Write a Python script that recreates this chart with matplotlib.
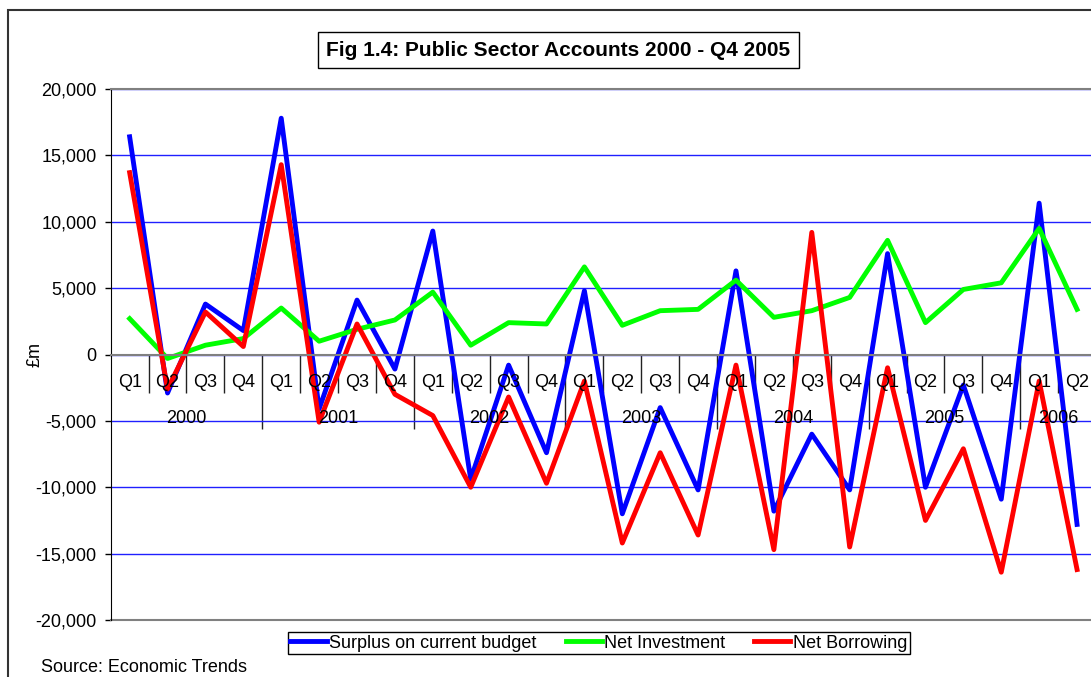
import matplotlib
matplotlib.use("Agg")
from matplotlib import pyplot as plt, patches
import numpy as np

plt.rcParams['font.family'] = ['Liberation Sans', 'DejaVu Sans']

years = ['2000'] * 4 + ['2001'] * 4 + ['2002'] * 4 + ['2003'] * 4 + ['2004'] * 4 + ['2005'] * 4 + ['2006'] * 2
quarters = ['Q1', 'Q2', 'Q3', 'Q4'] * 6 + ['Q1', 'Q2']

surplus = [16400, -2900, 3800, 1800, 17800, -4100, 4100, -1100, 9300, -9400, -800, -7400,
           4800, -12000, -4000, -10200, 6300, -11800, -6000, -10200, 7600, -10000, -2300, -10900,
           11400, -12800]
investment = [2700, -300, 700, 1200, 3500, 1000, 1900, 2600, 4700, 700, 2400, 2300,
              6600, 2200, 3300, 3400, 5600, 2800, 3300, 4300, 8600, 2400, 4900, 5400,
              9500, 3400]
borrowing = [13700, -2600, 3200, 600, 14300, -5100, 2300, -3000, -4600, -10000, -3200, -9700,
             -2000, -14200, -7400, -13600, -800, -14700, 9200, -14500, -1000, -12500, -7100, -16400,
             -2000, -16200]

W, H = 1091, 677
fig = plt.figure(figsize=(W / 100, H / 100), dpi=100)
ax = fig.add_axes([110.7 / W, 57 / H, 985.3 / W, 531 / H])

x = np.arange(len(quarters))
ax.plot(x, surplus, color='#0000ff', lw=3.5, label='Surplus on current budget')
ax.plot(x, investment, color='#00ff00', lw=3.5, label='Net Investment')
ax.plot(x, borrowing, color='#ff0000', lw=3.5, label='Net Borrowing')

ax.set_xlim(-0.5, len(quarters) - 0.5)
ax.set_ylim(-20000, 20000)

# y axis
yt = np.arange(-20000, 20001, 5000)
ax.set_yticks(yt)
ax.set_yticklabels([f"{v:,}" for v in yt], fontsize=13)
ax.tick_params(axis='y', direction='out', length=4, width=1, pad=6, color='black')
ax.yaxis.grid(True, color='#2020ff', lw=1)
ax.set_ylabel('£m', fontsize=13)
ax.yaxis.set_label_coords(-0.068, 0.5)

# frame
ax.spines['right'].set_visible(False)
ax.spines['left'].set_color('black')
ax.spines['top'].set_color('#808080')
ax.spines['top'].set_linewidth(1.5)
ax.spines['bottom'].set_position(('data', 0))
ax.spines['bottom'].set_color('#808080')
ax.spines['bottom'].set_linewidth(1.5)
ax.plot([0, 1], [0, 0], transform=ax.transAxes, color='#808080', lw=1.5, clip_on=False)

# category axis at zero: quarter separators and longer year separators
year_names = list(dict.fromkeys(years))
year_start = [years.index(y) for y in year_names]
year_centers = [np.mean([i for i, yy in enumerate(years) if yy == y]) for y in year_names]
ax.set_xticks([s - 0.5 for s in year_start[1:]])
ax.set_xticklabels([])
ax.set_xticks(x[:-1] + 0.5, minor=True)
ax.tick_params(axis='x', which='major', direction='out', length=53, width=1, color='#222222')
ax.tick_params(axis='x', which='minor', direction='out', length=27, width=1, color='#222222')

for i, q in enumerate(quarters):
    ax.annotate(q, xy=(i, 0), xytext=(0, -20), textcoords='offset points',
                ha='center', va='center', fontsize=13)
for c, y in zip(year_centers, year_names):
    ax.annotate(y, xy=(c, 0), xytext=(0, -46), textcoords='offset points',
                ha='center', va='center', fontsize=13)

# title box
fig.patches.append(patches.Rectangle((318 / W, 1 - 68 / H), 481 / W, 36 / H,
                                     transform=fig.transFigure, fc='white', ec='black', lw=1))
fig.text(558.5 / W, 1 - 50 / H, 'Fig 1.4: Public Sector Accounts 2000 - Q4 2005',
         ha='center', va='center', fontsize=15, fontweight='bold')

# outer border
fig.patches.append(patches.Rectangle((8 / W, -0.1), 1.2, 1 - 10 / H + 0.1,
                                     transform=fig.transFigure, fill=False, ec='#333333', lw=1.5))

leg = fig.legend(loc='center', bbox_to_anchor=(599 / W, 1 - 643 / H), ncol=3, fontsize=13,
                 frameon=True, fancybox=False, edgecolor='black', framealpha=1,
                 handlelength=2.0, handletextpad=0.15, columnspacing=1.6, borderpad=0.15,
                 borderaxespad=0)
leg.get_frame().set_linewidth(1)

fig.text(41 / W, 1 - 667 / H, 'Source: Economic Trends', ha='left', va='center', fontsize=13)

fig.savefig('out.png', dpi=100)
